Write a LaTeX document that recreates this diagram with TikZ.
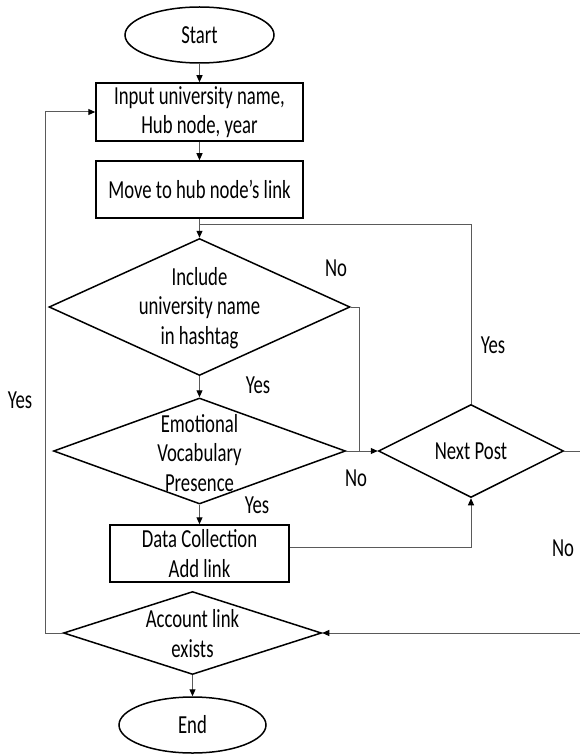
\documentclass[tikz,border=0pt]{standalone}
\usepackage{fontspec}
\setmainfont[FakeStretch=0.72]{Carlito}
\usetikzlibrary{shapes.geometric,arrows.meta}
\definecolor{linegray}{HTML}{5A5A5A}
\begin{document}
\begin{tikzpicture}[x=1pt,y=-1pt,
  every node/.style={font=\fontsize{26}{29.5}\selectfont},
  box/.style={draw=black,line width=1.5pt,rectangle,align=center,inner sep=0pt},
  term/.style={draw=black,line width=1.5pt,ellipse,inner sep=0pt},
  dia/.style={draw=black,line width=1.5pt,diamond,inner sep=0pt},
  txt/.style={align=center,inner sep=0pt},
  lbl/.style={inner sep=0pt},
  conn/.style={draw=linegray,line width=1pt},
  arr/.style={conn,-{Triangle[length=7pt,width=6pt,color=black]}}
]
\useasboundingbox (0,0) rectangle (580,754);

% nodes
\node[term,minimum width=149pt,minimum height=56pt] (start) at (199.5,35) {Start};
\node[box,minimum width=207pt,minimum height=58pt] (input) at (199.5,112) {Input university name,\\Hub node, year};
\node[box,minimum width=207pt,minimum height=57pt] (move) at (199.5,189.5) {Move to hub node’s link};
\node[dia,minimum width=301pt,minimum height=137pt] (d1) at (199.5,307) {};
\node[txt] (d1t) at (199.5,308) {Include\\university name\\in hashtag};
\node[dia,minimum width=292pt,minimum height=106pt] (d2) at (199.5,451) {};
\node[txt] (d2t) at (199.5,453) {Emotional\\Vocabulary\\Presence};
\node[box,minimum width=179pt,minimum height=57pt] (data) at (199.5,553.5) {Data Collection\\Add link};
\node[dia,minimum width=258pt,minimum height=83pt] (acc) at (192.5,633) {};
\node[txt] (acct) at (192.5,633.5) {Account link\\exists};
\node[term,minimum width=147pt,minimum height=56pt] (end) at (192.5,725) {End};
\node[dia,minimum width=185pt,minimum height=93pt] (next) at (471,451) {};
\node[txt] (nextt) at (471,451) {Next Post};

% coordinates
\coordinate (join) at (199.5,224);
\coordinate (d1r) at (359,307);
\coordinate (d1d) at (359,451);
\coordinate (nr1) at (582,451);
\coordinate (nr2) at (582,633);
\coordinate (al) at (45,633);
\coordinate (ul) at (45,112);

% connectors
\draw[arr] (start) -- (input);
\draw[arr] (input) -- (move);
\draw[arr] (move.south) -- (d1.north);
\draw[conn] (next.north) |- (join);
\draw[conn] (d1.east) -- (d1r) -- (d1d);
\draw[arr] (d2.east) -- (next.west);
\draw[arr] (d1.south) -- (d2.north);
\draw[arr] (d2.south) -- (data.north);
\draw[arr] ([yshift=6.5pt]data.east) -| (next.south);
\draw[arr] (next.east) -- (nr1) -- (nr2) -- (acc.east);
\draw[arr] (acc.west) -- (al) -- (ul) -- (input.west);
\draw[arr] (acc.south) -- (end.north);

% labels
\node[lbl] (l1) at (336,268) {No};
\node[lbl] (l2) at (258,385) {Yes};
\node[lbl] (l3) at (356,478) {No};
\node[lbl] (l4) at (257,505) {Yes};
\node[lbl] (l5) at (20,400) {Yes};
\node[lbl] (l6) at (493,345) {Yes};
\node[lbl] (l7) at (563,548) {No};
\end{tikzpicture}
\end{document}
